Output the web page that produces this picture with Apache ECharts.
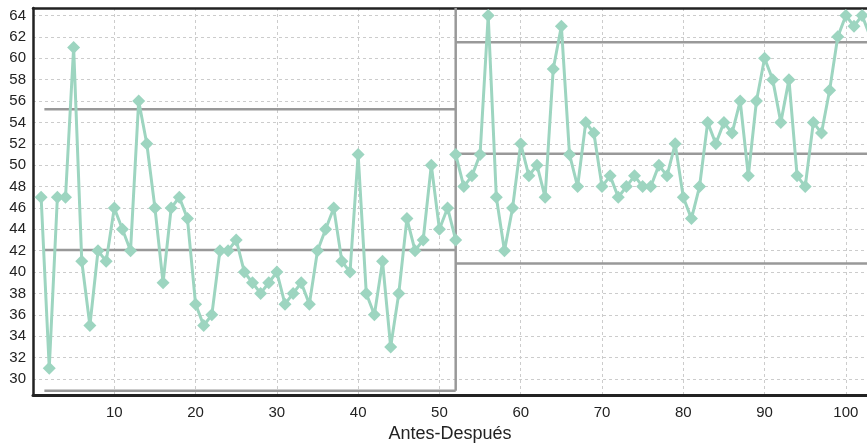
<!DOCTYPE html>
<html>
<head>
<meta charset="utf-8">
<script src="https://cdn.jsdelivr.net/npm/echarts@6/dist/echarts.min.js"></script>
<style>
    html, body {margin: 0; padding: 0; background: #fff;}
    #main {width: 867px; height: 444px;}
</style>
</head>
<body>
<div id="main"></div>
<script>
// 改善前的观测值 (x = 1..52)
var beforeValues = [47, 31, 47, 47, 61, 41, 35, 42, 41, 46,
    44, 42, 56, 52, 46, 39, 46, 47, 45, 37,
    35, 36, 42, 42, 43, 40, 39, 38, 39, 40,
    37, 38, 39, 37, 42, 44, 46, 41, 40, 51,
    38, 36, 41, 33, 38, 45, 42, 43, 50, 44,
    46, 43];
// 改善后的观测值 (x = 52..103)
var afterValues = [51, 48, 49, 51, 64, 47, 42, 46, 52, 49,
    50, 47, 59, 63, 51, 48, 54, 53, 48, 49,
    47, 48, 49, 48, 48, 50, 49, 52, 47, 45,
    48, 54, 52, 54, 53, 56, 49, 56, 60, 58,
    54, 58, 49, 48, 54, 53, 57, 62, 64, 63,
    64, 62];
var beforeStart = 1;
var afterStart = 52;
// 控制限: [改善前, 改善后]
var phaseFrom = [1.4, 52];
var phaseTo = [52, 104];
var uclValues = [55.24, 61.5];
var clValues = [42.07, 51.07];
var lclValues = [28.9, 40.8];
// 刻度
var yTicks = [30, 32, 34, 36, 38, 40, 42, 44, 46, 48, 50, 52, 54, 56, 58, 60, 62, 64];
var xTicks = [10, 20, 30, 40, 50, 60, 70, 80, 90, 100];
var xName = 'Antes-Después';

var xMin = 0, xMax = 102.6, yMin = 28.5, yMax = 64.7;
var green = '#9dd5c0';
var grey = '#999999';

function toPairs(values, start) {
    var arr = [];
    for (var i = 0; i < values.length; i++) {
        arr.push([start + i, values[i]]);
    }
    return arr;
}

// 灰色控制线
function limitSeries(values, idx) {
    return {
        type: 'line',
        symbol: 'none',
        silent: true,
        lineStyle: {color: grey, width: 2.5},
        data: [[phaseFrom[idx], values[idx]], [phaseTo[idx], values[idx]]],
        z: 2
    };
}

var series = [];
for (var p = 0; p < 2; p++) {
    series.push(limitSeries(uclValues, p));
    series.push(limitSeries(clValues, p));
    series.push(limitSeries(lclValues, p));
}
// 阶段分隔竖线
series.push({
    type: 'line',
    symbol: 'none',
    silent: true,
    lineStyle: {color: grey, width: 2.5},
    data: [[afterStart, lclValues[0]], [afterStart, yMax]],
    z: 2
});
// 观测值折线
[toPairs(beforeValues, beforeStart), toPairs(afterValues, afterStart)].forEach(function (d) {
    series.push({
        type: 'line',
        symbol: 'diamond',
        symbolSize: 13,
        itemStyle: {color: green},
        lineStyle: {color: green, width: 3},
        data: d,
        z: 3
    });
});

var chart = echarts.init(document.getElementById('main'));
var option = {
    animation: false,
    backgroundColor: '#fff',
    grid: {left: 33, top: 8, right: 0, bottom: 49, outerBoundsMode: 'none'},
    xAxis: [
        {
            type: 'value',
            min: xMin,
            max: xMax,
            name: xName,
            nameLocation: 'middle',
            nameGap: 30,
            nameTextStyle: {fontFamily: 'Liberation Sans', fontSize: 18, color: '#222'},
            axisLine: {lineStyle: {color: '#222', width: 3}},
            axisTick: {show: false, customValues: xTicks},
            axisLabel: {
                customValues: xTicks,
                fontFamily: 'Liberation Sans',
                fontSize: 15,
                color: '#222',
                margin: 10
            },
            splitLine: {show: true, lineStyle: {color: '#cccccc', type: [3, 3], width: 1}}
        },
        {
            type: 'value',
            position: 'top',
            min: xMin,
            max: xMax,
            axisLine: {show: true, onZero: false, lineStyle: {color: '#222', width: 2.5}},
            axisTick: {show: false},
            axisLabel: {show: false},
            splitLine: {show: false}
        }
    ],
    yAxis: {
        type: 'value',
        min: yMin,
        max: yMax,
        axisLine: {show: true, onZero: false, lineStyle: {color: '#222', width: 2.5}},
        axisTick: {show: false, customValues: yTicks},
        axisLabel: {
            customValues: yTicks,
            fontFamily: 'Liberation Sans',
            fontSize: 15,
            color: '#222',
            margin: 7
        },
        splitLine: {show: true, lineStyle: {color: '#cccccc', type: [3, 3], width: 1}}
    },
    series: series
};
chart.setOption(option);
</script>
</body>
</html>
